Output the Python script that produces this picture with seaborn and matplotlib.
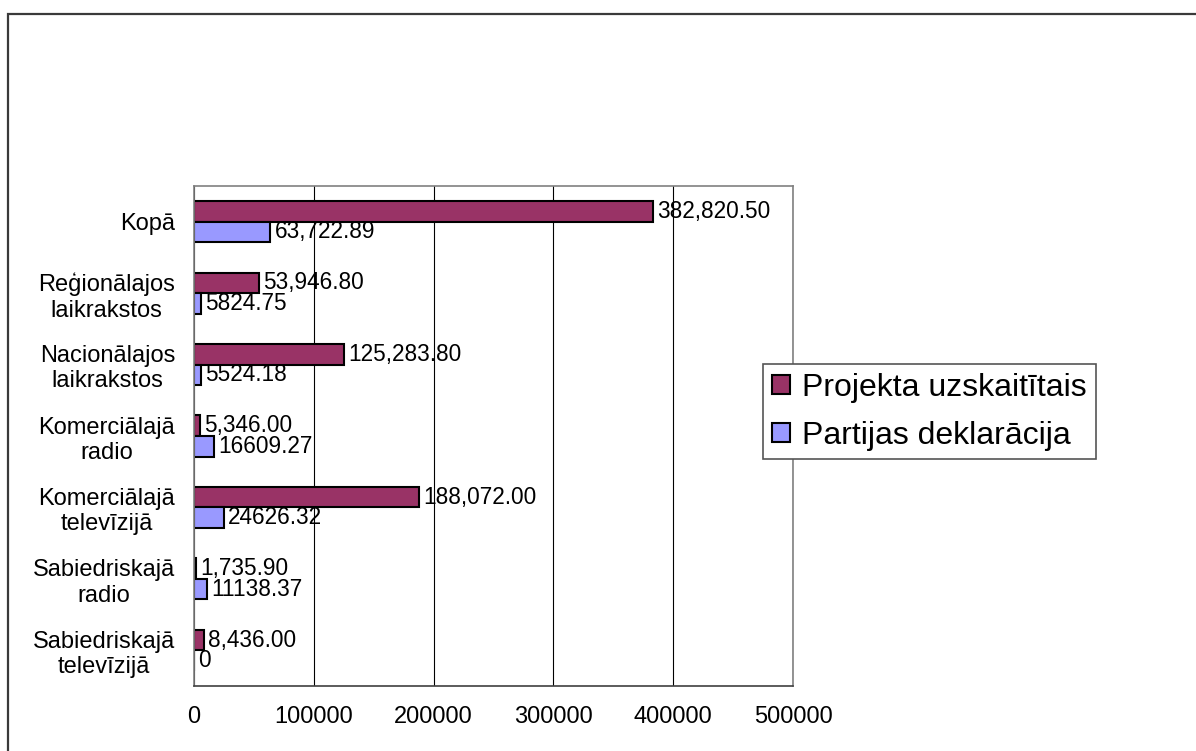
import matplotlib
matplotlib.use("Agg")
import matplotlib.pyplot as plt
import seaborn as sns
import pandas as pd
from matplotlib.patches import Rectangle

# Media categories (top to bottom) and the two compared series
categories = [
    "Kopā",
    "Reģionālajos\nlaikrakstos",
    "Nacionālajos\nlaikrakstos",
    "Komerciālajā\nradio",
    "Komerciālajā\ntelevīzijā",
    "Sabiedriskajā\nradio",
    "Sabiedriskajā\ntelevīzijā",
]
projekta = [382820.50, 53946.80, 125283.80, 5346.00, 188072.00, 1735.90, 8436.00]
partijas = [63722.89, 5824.75, 5524.18, 16609.27, 24626.32, 11138.37, 0]
series_names = ["Projekta uzskaitītais", "Partijas deklarācija"]
series_colors = ["#993366", "#9999FF"]
x_ticks = [0, 100000, 200000, 300000, 400000, 500000]

# Value labels drawn next to each bar
projekta_labels = [f"{v:,.2f}" for v in projekta]
partijas_labels = [f"{partijas[0]:,.2f}"] + [f"{v:.2f}" if v else "0" for v in partijas[1:]]

df = pd.DataFrame({
    "category": categories * 2,
    "value": projekta + partijas,
    "series": [series_names[0]] * len(categories) + [series_names[1]] * len(categories),
})

sns.set_style("white")
plt.rcParams["font.family"] = ["Liberation Sans", "DejaVu Sans"]
plt.rcParams["text.color"] = "black"
plt.rcParams["xtick.labelcolor"] = "black"
plt.rcParams["ytick.labelcolor"] = "black"

fig = plt.figure(figsize=(11.96, 7.51), dpi=100)
ax = fig.add_axes([194 / 1196, 1 - 686 / 751, 599 / 1196, 500 / 751])

sns.barplot(
    data=df, y="category", x="value", hue="series",
    hue_order=series_names, order=categories, palette=series_colors,
    orient="h", width=0.575, saturation=1,
    edgecolor="black", linewidth=1.5, ax=ax,
)

for cont, labs in zip(ax.containers, [projekta_labels, partijas_labels]):
    ax.bar_label(cont, labels=labs, padding=3, fontsize=16.3, color="black")

ax.set_xlim(0, 500000)
ax.set_ylim(len(categories) - 0.5, -0.5)
ax.set_xticks(x_ticks)
ax.set_xticklabels([str(t) for t in x_ticks])
ax.set_xlabel("")
ax.set_ylabel("")

# Category labels sit between the boundary ticks
ax.set_yticks(range(len(categories)))
ax.set_yticklabels(categories, multialignment="center")
ax.set_yticks([i - 0.5 for i in range(len(categories) + 1)], minor=True)
ax.tick_params(axis="y", which="major", length=0, pad=13.5, labelsize=17, labelcolor="black")
ax.tick_params(axis="y", which="minor", length=4.5, width=1.0, color="#808080", direction="out")
ax.tick_params(axis="x", which="major", length=5, width=1.0, color="#808080",
               direction="out", pad=9.5, labelsize=17, labelcolor="black")

ax.xaxis.grid(True, color="black", linewidth=0.8)
ax.set_axisbelow(True)
for side, spine in ax.spines.items():
    spine.set_visible(True)
    spine.set_linewidth(1.2)
    spine.set_color("#404040" if side == "bottom" else "#808080")

handles, labels = ax.get_legend_handles_labels()
leg = ax.legend(
    handles, labels,
    loc="upper left", bbox_to_anchor=(763 / 1196, 1 - 364 / 751),
    bbox_transform=fig.transFigure, borderaxespad=0,
    fontsize=23, frameon=True, fancybox=False, framealpha=1,
    edgecolor="#555555", handlelength=0.55, handleheight=0.55,
    handletextpad=0.4, labelspacing=0.55, borderpad=0.28,
)
leg.get_frame().set_linewidth(1.2)
for t in leg.get_texts():
    t.set_color("black")

# Outer chart border
fig.patches.append(Rectangle(
    (7.5 / 1196, -0.05), 1.2, 1 - 13.5 / 751 + 0.05,
    transform=fig.transFigure, fill=False, edgecolor="#3a3a3a", linewidth=1.6,
))

fig.savefig("out.png", dpi=100)
